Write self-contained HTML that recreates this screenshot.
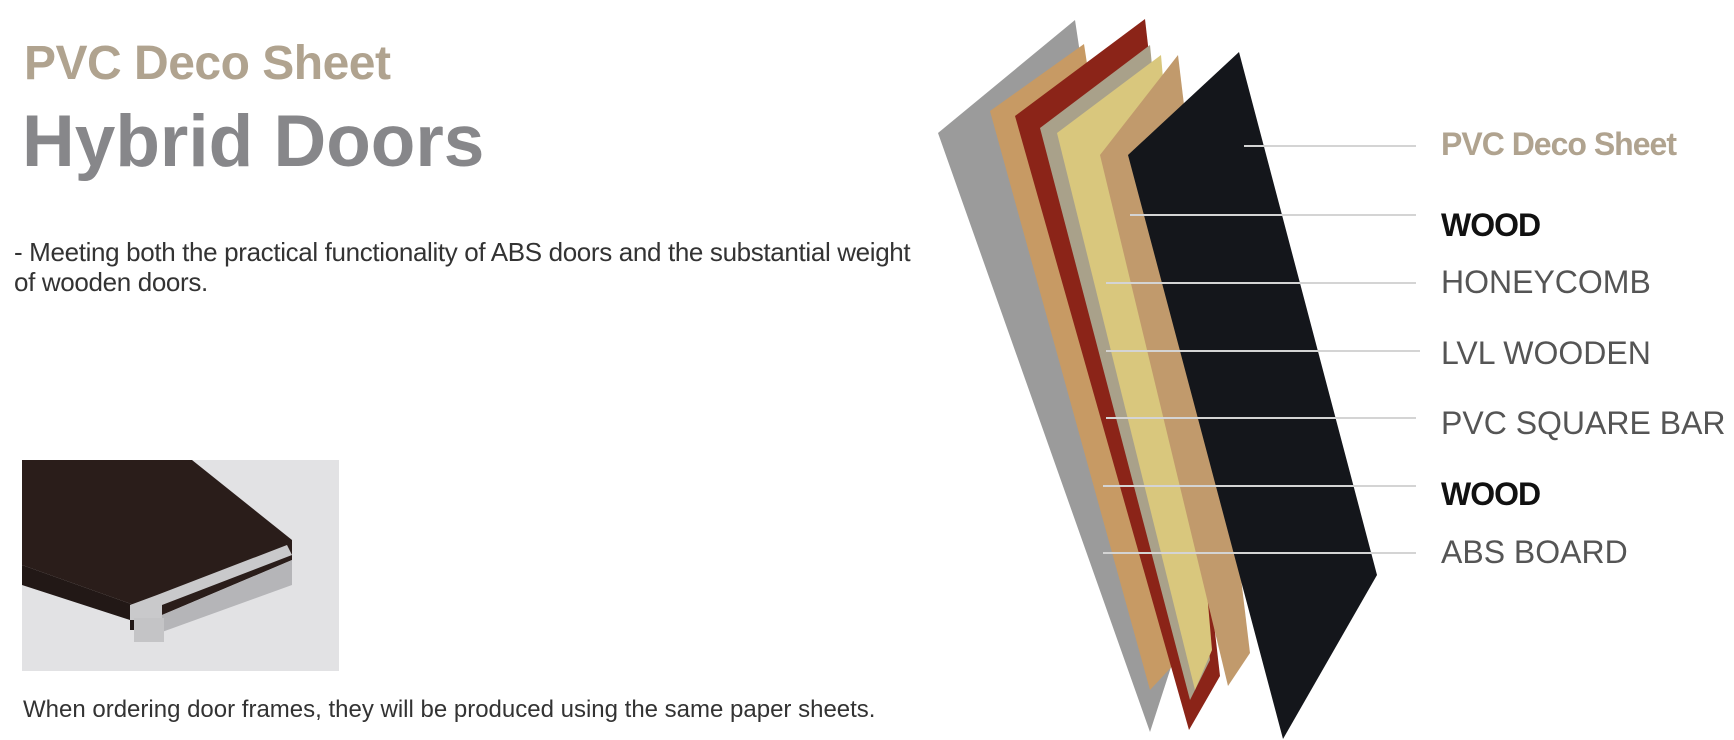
<!DOCTYPE html>
<html><head><meta charset="utf-8"><style>
body{margin:0;width:1734px;height:740px;background:#fff;position:relative;overflow:hidden;font-family:"Liberation Sans",sans-serif}
.a{position:absolute;white-space:nowrap}
</style></head><body>
<div class="a" style="left:24px;top:36px;font-size:48px;font-weight:bold;color:#b0a38f;letter-spacing:-0.5px">PVC Deco Sheet</div>
<div class="a" style="left:22px;top:100px;font-size:73px;font-weight:bold;color:#87878a">Hybrid Doors</div>
<div class="a" style="left:14px;top:237px;font-size:26px;color:#333;line-height:30px;letter-spacing:-0.35px">- Meeting both the practical functionality of ABS doors and the substantial weight<br>of wooden doors.</div>
<svg class="a" style="left:22px;top:460px" width="317" height="211" viewBox="0 0 317 211">
<rect width="317" height="211" fill="#e2e2e4"/>
<polygon points="0,0 170,0 270,80 270,100 140,155 0,105" fill="#2a1d1a"/>
<polygon points="0,105 140,155 140,170 108,170 108,160 0,125" fill="#221816"/>
<polygon points="108,160 140,160 140,145 270,95 265,85 135,135 108,145" fill="#c9c9cb"/>
<polygon points="140,155 270,100 270,125 140,172" fill="#b5b5b8"/>
<rect x="112" y="158" width="30" height="24" fill="#c4c4c6"/>
</svg>
<div class="a" style="left:23px;top:696px;font-size:24px;color:#333">When ordering door frames, they will be produced using the same paper sheets.</div>
<svg class="a" style="left:0;top:0" width="1734" height="740">
<polygon points="938,133 1075,20 1172,664 1150,732" fill="#9b9b9b"/>
<polygon points="990,111 1084,44 1178,660 1150,690" fill="#c79a64"/>
<polygon points="1015,116 1145,19 1220,676 1189,730" fill="#8b2418"/>
<polygon points="1040,128 1150,45 1210,660 1190,700" fill="#a9a18a"/>
<polygon points="1057,133 1161,55 1212,650 1195,690" fill="#d9c77d"/>
<polygon points="1100,155 1178,55 1250,653 1228,686" fill="#c19a6c"/>
<polygon points="1128,155 1239,52 1377,575 1283,739" fill="#14161b"/>
<g stroke="#d4d4d4" stroke-width="2">
<line x1="1244" y1="146" x2="1416" y2="146"/>
<line x1="1130" y1="215" x2="1416" y2="215"/>
<line x1="1106" y1="283" x2="1416" y2="283"/>
<line x1="1106" y1="351" x2="1420" y2="351"/>
<line x1="1106" y1="418" x2="1416" y2="418"/>
<line x1="1103" y1="486" x2="1416" y2="486"/>
<line x1="1103" y1="553" x2="1416" y2="553"/>
</g>
</svg>
<div class="a" style="left:1441px;top:126px;font-size:32px;font-weight:bold;color:#b0a38f;letter-spacing:-1px">PVC Deco Sheet</div>
<div class="a" style="left:1441px;top:207px;font-size:32px;font-weight:bold;color:#111;letter-spacing:-1px">WOOD</div>
<div class="a" style="left:1441px;top:264px;font-size:32px;color:#555">HONEYCOMB</div>
<div class="a" style="left:1441px;top:335px;font-size:32px;color:#555">LVL WOODEN</div>
<div class="a" style="left:1441px;top:405px;font-size:32px;color:#555">PVC SQUARE BAR</div>
<div class="a" style="left:1441px;top:476px;font-size:32px;font-weight:bold;color:#111;letter-spacing:-1px">WOOD</div>
<div class="a" style="left:1441px;top:534px;font-size:32px;color:#555">ABS BOARD</div>
</body></html>
